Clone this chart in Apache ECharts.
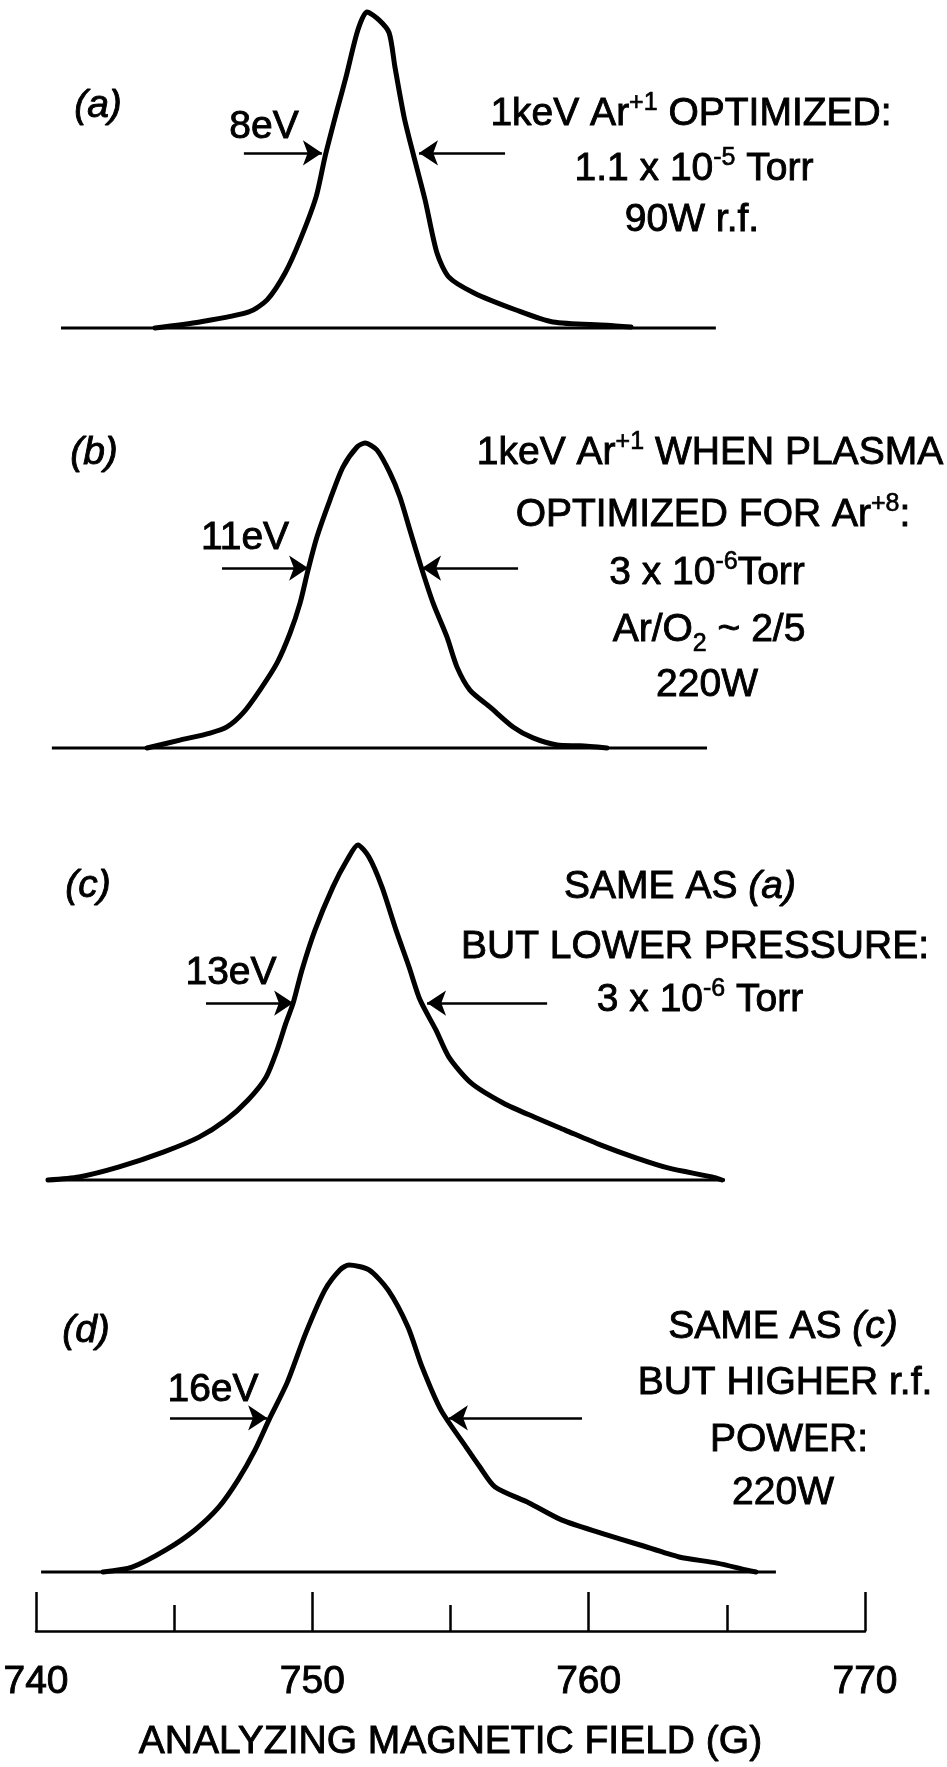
<!DOCTYPE html>
<html><head><meta charset="utf-8">
<script src="https://cdn.jsdelivr.net/npm/echarts@6/dist/echarts.min.js"></script>
<style>html,body{margin:0;padding:0;background:#fff}#chart{width:947px;height:1767px}</style>
</head><body><div id="chart"></div>
<script>
// ---- data (magnetic field in G, relative intensity 0..1) ----
const fieldRange = [740, 770];
const tickStep = 10;
const curveA = [[744.34,0],[745.96,0.019],[747.73,0.051],[748.39,0.089],[749.04,0.174],[749.58,0.278],[750.16,0.415],[750.48,0.541],[750.92,0.690],[751.24,0.794],[751.67,0.943],[752.00,1.0],[752.43,0.975],[752.80,0.934],[753.01,0.826],[753.34,0.668],[753.66,0.554],[754.10,0.405],[754.53,0.237],[754.96,0.161],[755.87,0.111],[757.39,0.057],[758.72,0.019],[760.67,0.009],[761.54,0.003]];
const curveB = [[744.05,0],[745.24,0.026],[746.33,0.049],[746.94,0.069],[747.52,0.115],[748.13,0.190],[748.75,0.279],[749.22,0.377],[749.58,0.475],[749.87,0.584],[750.19,0.692],[750.66,0.813],[751.13,0.921],[751.64,0.987],[751.93,1.0],[752.36,0.977],[752.83,0.902],[753.19,0.823],[753.55,0.715],[753.99,0.584],[754.39,0.475],[754.89,0.364],[755.25,0.266],[755.72,0.190],[756.45,0.134],[757.28,0.069],[758.00,0.033],[758.87,0.010],[759.70,0.007],[760.67,0]];
const curveC = [[740.47,0],[741.59,0.009],[743.04,0.039],[744.66,0.084],[745.93,0.128],[746.90,0.179],[747.70,0.239],[748.35,0.307],[748.75,0.388],[749.07,0.469],[749.33,0.528],[749.65,0.627],[750.12,0.746],[750.77,0.875],[751.28,0.955],[751.67,1.0],[752.07,0.964],[752.54,0.875],[753.05,0.746],[753.52,0.636],[753.92,0.537],[754.49,0.448],[754.96,0.367],[755.76,0.290],[756.92,0.230],[758.04,0.188],[759.16,0.149],[760.46,0.104],[761.72,0.066],[762.88,0.036],[764.47,0.009],[764.83,0]];
const curveD = [[742.46,0],[743.51,0.016],[744.73,0.072],[745.78,0.137],[746.65,0.212],[747.34,0.300],[747.95,0.397],[748.49,0.502],[749.11,0.616],[749.79,0.779],[750.48,0.919],[751.02,0.984],[751.35,1.0],[752.07,0.984],[752.76,0.919],[753.48,0.798],[753.99,0.668],[754.67,0.528],[755.58,0.407],[756.08,0.342],[756.63,0.277],[757.86,0.225],[759.05,0.169],[760.46,0.127],[761.87,0.088],[763.28,0.049],[764.65,0.029],[765.70,0.007],[766.06,0]];
const baselineExtents = [[740.94,764.61],[740.61,764.29],[740.47,764.94],[740.22,766.78]];
const arrowLeft = [[747.55,750.37],[746.76,749.87],[746.18,749.33],[744.88,748.39]];
const arrowRight = [[756.99,753.88],[757.46,753.99],[758.51,754.17],[759.77,754.96]];
const arrowLevels = [0.554,0.590,0.528,0.502];
const fwhmLabels = ['8eV','11eV','13eV','16eV'];
const panelLabels = ['(a)','(b)','(c)','(d)'];
const axisTitle = 'ANALYZING MAGNETIC FIELD (G)';
const noteA = ['1keV Ar{sup|+1} OPTIMIZED:','1.1 x 10{sup|-5} Torr','90W r.f.'];
const noteB = ['1keV Ar{sup|+1} WHEN PLASMA','OPTIMIZED FOR Ar{sup|+8}:','3 x 10{sup|-6}Torr','Ar/O{sub|2} ~ 2/5','220W'];
const noteC = ['SAME AS {it|(a)}','BUT LOWER PRESSURE:','3 x 10{sup|-6} Torr'];
const noteD = ['SAME AS {it|(c)}','BUT HIGHER r.f.','POWER:','220W'];

// ---- layout ----
const curves = [curveA, curveB, curveC, curveD];
const panelTop = [12, 443, 845, 1265];
const panelBase = [328, 748, 1180, 1572];
const L = 35, R = 82;
const FONT = '"Liberation Sans", Arial, Helvetica, sans-serif';
const FS = 39;
const SW = 0.9;

const grids = [], xAxes = [], yAxes = [], series = [];
for (let i = 0; i < 4; i++) {
  grids.push({left: L, right: R, top: panelTop[i], height: panelBase[i] - panelTop[i]});
  xAxes.push({gridIndex: i, type: 'value', min: fieldRange[0], max: fieldRange[1], show: false});
  yAxes.push({gridIndex: i, type: 'value', min: 0, max: 1, show: false});
  series.push({
    type: 'line', xAxisIndex: i, yAxisIndex: i, data: curves[i], showSymbol: false, symbol: 'none',
    smooth: 0.25, clip: false, lineStyle: {color: '#000', width: 5, join: 'round', cap: 'round'}, silent: true, z: 3
  });
  const lv = arrowLevels[i];
  series.push({
    type: 'line', xAxisIndex: i, yAxisIndex: i, showSymbol: false, symbol: 'none', clip: false, silent: true,
    data: [[baselineExtents[i][0], 0], [baselineExtents[i][1], 0]],
    lineStyle: {color: '#000', width: 3},
    markLine: {
      silent: true, symbol: ['none', 'arrow'], symbolSize: 19, animation: false,
      label: {show: false},
      lineStyle: {color: '#000', width: 2.6, type: 'solid'},
      data: [
        [{coord: [arrowLeft[i][0], lv]}, {coord: [arrowLeft[i][1], lv]}],
        [{coord: [arrowRight[i][0], lv]}, {coord: [arrowRight[i][1], lv]}]
      ]
    }
  });
}
// bottom scale axis
grids.push({left: L, right: R, top: 1590, height: 41});
xAxes.push({
  gridIndex: 4, type: 'value', min: fieldRange[0], max: fieldRange[1], interval: tickStep,
  axisLine: {show: true, lineStyle: {color: '#000', width: 2.5}},
  axisTick: {show: true, inside: true, length: 39, lineStyle: {color: '#000', width: 2.5}},
  minorTick: {show: true, splitNumber: 2, length: 26, lineStyle: {color: '#000', width: 2.5}},
  splitLine: {show: false}, minorSplitLine: {show: false},
  axisLabel: {color: '#000', fontSize: FS, fontFamily: FONT, margin: 32, textBorderColor: '#000', textBorderWidth: SW},
  name: axisTitle, nameLocation: 'middle', nameGap: 92,
  nameTextStyle: {color: '#000', fontSize: FS, fontFamily: FONT, textBorderColor: '#000', textBorderWidth: SW}
});
yAxes.push({gridIndex: 4, type: 'value', show: false, min: 0, max: 1});
series.push({type: 'line', xAxisIndex: 4, yAxisIndex: 4, data: [], silent: true});

const rich = {
  sup: {fontSize: 25, lineHeight: 24, verticalAlign: 'top', fontFamily: FONT, fill: '#000', stroke: '#000', lineWidth: SW * 0.7},
  sub: {fontSize: 25, lineHeight: 24, verticalAlign: 'bottom', fontFamily: FONT, fill: '#000', stroke: '#000', lineWidth: SW * 0.7},
  it: {fontSize: FS, fontStyle: 'italic', fontFamily: FONT, fill: '#000', stroke: '#000', lineWidth: SW}
};
function txt(text, x, y, extra) {
  return {type: 'text', x: x, y: y, silent: true, z: 10,
    style: Object.assign({text: text, fontSize: FS, fontFamily: FONT, fill: '#000', stroke: '#000', lineWidth: SW,
      align: 'center', verticalAlign: 'middle', lineHeight: 46, rich: rich}, extra || {})};
}
const graphics = [];
const panelLabelPos = [[98,106],[94,453],[88,886],[86,1331]];
const fwhmPos = [[264,127],[245,538],[231,973],[213,1390]];
for (let i = 0; i < 4; i++) {
  graphics.push(txt(panelLabels[i], panelLabelPos[i][0], panelLabelPos[i][1], {fontStyle: 'italic'}));
  graphics.push(txt(fwhmLabels[i], fwhmPos[i][0], fwhmPos[i][1]));
}
const notePos = [
  [[691,114],[694,169],[692,220]],
  [[710,453],[713,515],[707,573],[709,630],[707,685]],
  [[680,887],[695,947],[700,1000]],
  [[783,1327],[785,1383],[789,1440],[783,1493]]
];
[noteA, noteB, noteC, noteD].forEach((lines, i) => {
  lines.forEach((s, j) => {
    const extra = s.indexOf('{sub|') >= 0 ? {lineHeight: 54} : {};
    graphics.push(txt(s, notePos[i][j][0], notePos[i][j][1], extra));
  });
});

const chart = echarts.init(document.getElementById('chart'), null, {renderer: 'canvas'});
chart.setOption({
  backgroundColor: '#fff', animation: false,
  grid: grids, xAxis: xAxes, yAxis: yAxes, series: series, graphic: graphics
});
</script></body></html>
